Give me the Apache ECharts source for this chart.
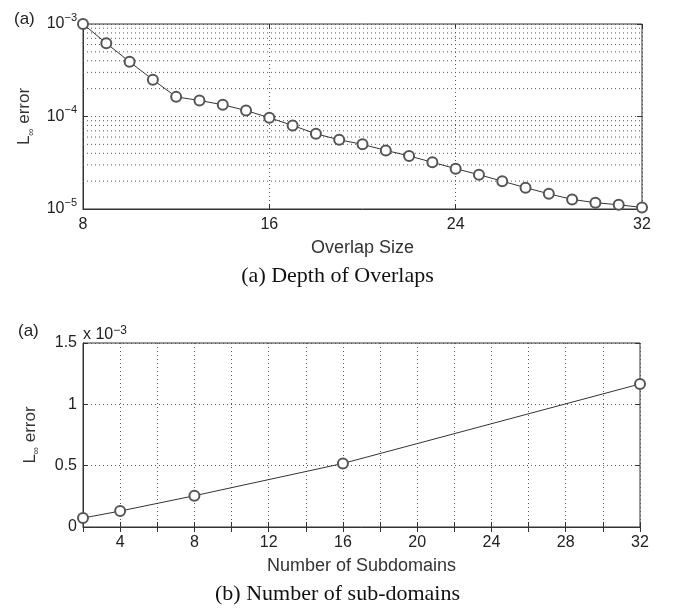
<!DOCTYPE html>
<html>
<head>
<meta charset="utf-8">
<script src="https://cdn.jsdelivr.net/npm/echarts@6/dist/echarts.min.js"></script>
<style>
html, body { margin: 0; padding: 0; background: #fff; }
#chart { width: 675px; height: 609px; }
</style>
</head>
<body>
<div id="chart"></div>
<script>
// (a) depth of overlaps
var overlapSize = [8, 9, 10, 11, 12, 13, 14, 15, 16, 17, 18, 19, 20, 21, 22, 23, 24, 25, 26, 27, 28, 29, 30, 31, 32];
var overlapErr = [1.0e-3, 6.2e-4, 3.9e-4, 2.5e-4, 1.63e-4, 1.49e-4, 1.34e-4, 1.16e-4, 9.7e-5, 8.0e-5, 6.5e-5, 5.6e-5,
  5.0e-5, 4.3e-5, 3.75e-5, 3.2e-5, 2.73e-5, 2.35e-5, 2.0e-5, 1.7e-5, 1.46e-5, 1.27e-5, 1.17e-5, 1.11e-5, 1.04e-5];
var minorGrid = [2e-5, 3e-5, 4e-5, 5e-5, 6e-5, 7e-5, 8e-5, 9e-5, 2e-4, 3e-4, 4e-4, 5e-4, 6e-4, 7e-4, 8e-4, 9e-4];

// (b) number of sub-domains, error in units of 10^-3
var subdomains = [2, 4, 8, 16, 32];
var subErr = [0.073, 0.130, 0.255, 0.518, 1.166];

var sans = "Liberation Sans";
var txt = "#222";
var dotted = { type: [1, 3], color: "#555", width: 1 };

var myChart = echarts.init(document.getElementById("chart"));

function expLabel(v) {
  var e = Math.round(Math.log10(v));
  return "{b|10}{s|\u2212" + (-e) + "}";
}
var expRich = {
  b: { fontSize: 16, fontFamily: sans, color: txt, lineHeight: 24 },
  s: { fontSize: 11, fontFamily: sans, color: txt, lineHeight: 11, verticalAlign: "top" }
};
var nameRich = {
  l: { fontSize: 17, fontFamily: sans, color: "#333", lineHeight: 22 },
  i: { fontSize: 10, fontFamily: sans, color: "#333", lineHeight: 10, verticalAlign: "bottom" }
};
var tick = { show: true, inside: true, length: 5, lineStyle: { color: "#333" } };
var axLine = { show: true, lineStyle: { color: "#333" } };

// minor log grid lines (2..9 x decade), drawn as dotted lines across the plot
var minorSeries = minorGrid.map(function (v) {
  return {
    type: "line", xAxisIndex: 0, yAxisIndex: 0, silent: true, symbol: "none", z: 1,
    lineStyle: dotted,
    data: [[8, v], [32, v]]
  };
});

myChart.setOption({
  animation: false,
  title: [
    { text: "(a)", left: 9, top: 6, textStyle: { fontSize: 17, fontWeight: "normal", fontFamily: sans, color: txt } },
    { text: "(a)", left: 13, top: 318, textStyle: { fontSize: 17, fontWeight: "normal", fontFamily: sans, color: txt } },
    { text: "x 10{s|\u22123}", left: 78, top: 320,
      textStyle: { fontSize: 16, fontWeight: "normal", fontFamily: sans, color: txt, lineHeight: 20,
        rich: { s: { fontSize: 12, fontFamily: sans, color: txt, lineHeight: 12, verticalAlign: "top" } } } },
    { text: "(a) Depth of Overlaps", left: "center", top: 260,
      textStyle: { fontSize: 22, fontWeight: "normal", fontFamily: "Liberation Serif", color: "#111" } },
    { text: "(b) Number of sub-domains", left: "center", top: 578,
      textStyle: { fontSize: 22, fontWeight: "normal", fontFamily: "Liberation Serif", color: "#111" } }
  ],
  grid: [
    { left: 83, right: 33, top: 24, height: 185, show: true, borderColor: "#333", borderWidth: 1 },
    { left: 83, right: 35, top: 343, height: 184, show: true, borderColor: "#333", borderWidth: 1 }
  ],
  xAxis: [
    {
      gridIndex: 0, type: "value", min: 8, max: 32, interval: 8,
      name: "Overlap Size", nameLocation: "middle", nameGap: 30,
      nameTextStyle: { fontSize: 18, fontFamily: sans, color: "#333" },
      axisLine: axLine, axisTick: tick,
      axisLabel: { fontSize: 16, fontFamily: sans, color: txt, margin: 8 },
      splitLine: { show: true, lineStyle: dotted }
    },
    {
      gridIndex: 0, type: "value", position: "top", min: 8, max: 32, interval: 8,
      axisLine: { show: false }, axisTick: tick, axisLabel: { show: false }, splitLine: { show: false }
    },
    {
      gridIndex: 1, type: "value", min: 2, max: 32, interval: 2,
      name: "Number of Subdomains", nameLocation: "middle", nameGap: 30,
      nameTextStyle: { fontSize: 18, fontFamily: sans, color: "#333" },
      axisLine: axLine, axisTick: tick,
      axisLabel: {
        fontSize: 16, fontFamily: sans, color: txt, margin: 8,
        formatter: function (v) { return v % 4 === 0 ? String(v) : ""; }
      },
      splitLine: { show: true, lineStyle: dotted }
    },
    {
      gridIndex: 1, type: "value", position: "top", min: 2, max: 32, interval: 2,
      axisLine: { show: false }, axisTick: tick, axisLabel: { show: false }, splitLine: { show: false }
    }
  ],
  yAxis: [
    {
      gridIndex: 0, type: "log", logBase: 10, min: 1e-5, max: 1e-3,
      name: "{l|L}{i|\u221e}{l| error}", nameLocation: "middle", nameGap: 42, nameRotate: 90,
      nameTextStyle: { rich: nameRich },
      axisLine: axLine, axisTick: tick,
      axisLabel: { formatter: expLabel, rich: expRich, margin: 6 },
      splitLine: { show: true, lineStyle: dotted }
    },
    {
      gridIndex: 0, type: "log", logBase: 10, min: 1e-5, max: 1e-3, position: "right",
      axisLine: { show: false }, axisTick: tick, axisLabel: { show: false }, splitLine: { show: false }
    },
    {
      gridIndex: 1, type: "value", min: 0, max: 1.5, interval: 0.5,
      name: "{l|L}{i|\u221e}{l| error}", nameLocation: "middle", nameGap: 42, nameRotate: 90,
      nameTextStyle: { rich: nameRich },
      axisLine: axLine, axisTick: tick,
      axisLabel: { fontSize: 16, fontFamily: sans, color: txt, margin: 6 },
      splitLine: { show: true, lineStyle: dotted }
    },
    {
      gridIndex: 1, type: "value", min: 0, max: 1.5, interval: 0.5, position: "right",
      axisLine: { show: false }, axisTick: tick, axisLabel: { show: false }, splitLine: { show: false }
    }
  ],
  series: minorSeries.concat([
    {
      type: "line", xAxisIndex: 0, yAxisIndex: 0, z: 3,
      data: overlapSize.map(function (x, i) { return [x, overlapErr[i]]; }),
      symbol: "emptyCircle", symbolSize: 10,
      itemStyle: { color: "#555", borderWidth: 0.8 },
      lineStyle: { color: "#333", width: 1 }
    },
    {
      type: "line", xAxisIndex: 2, yAxisIndex: 2, z: 3,
      data: subdomains.map(function (x, i) { return [x, subErr[i]]; }),
      symbol: "emptyCircle", symbolSize: 10,
      itemStyle: { color: "#555", borderWidth: 0.8 },
      lineStyle: { color: "#333", width: 1 }
    }
  ])
});
</script>
</body>
</html>
